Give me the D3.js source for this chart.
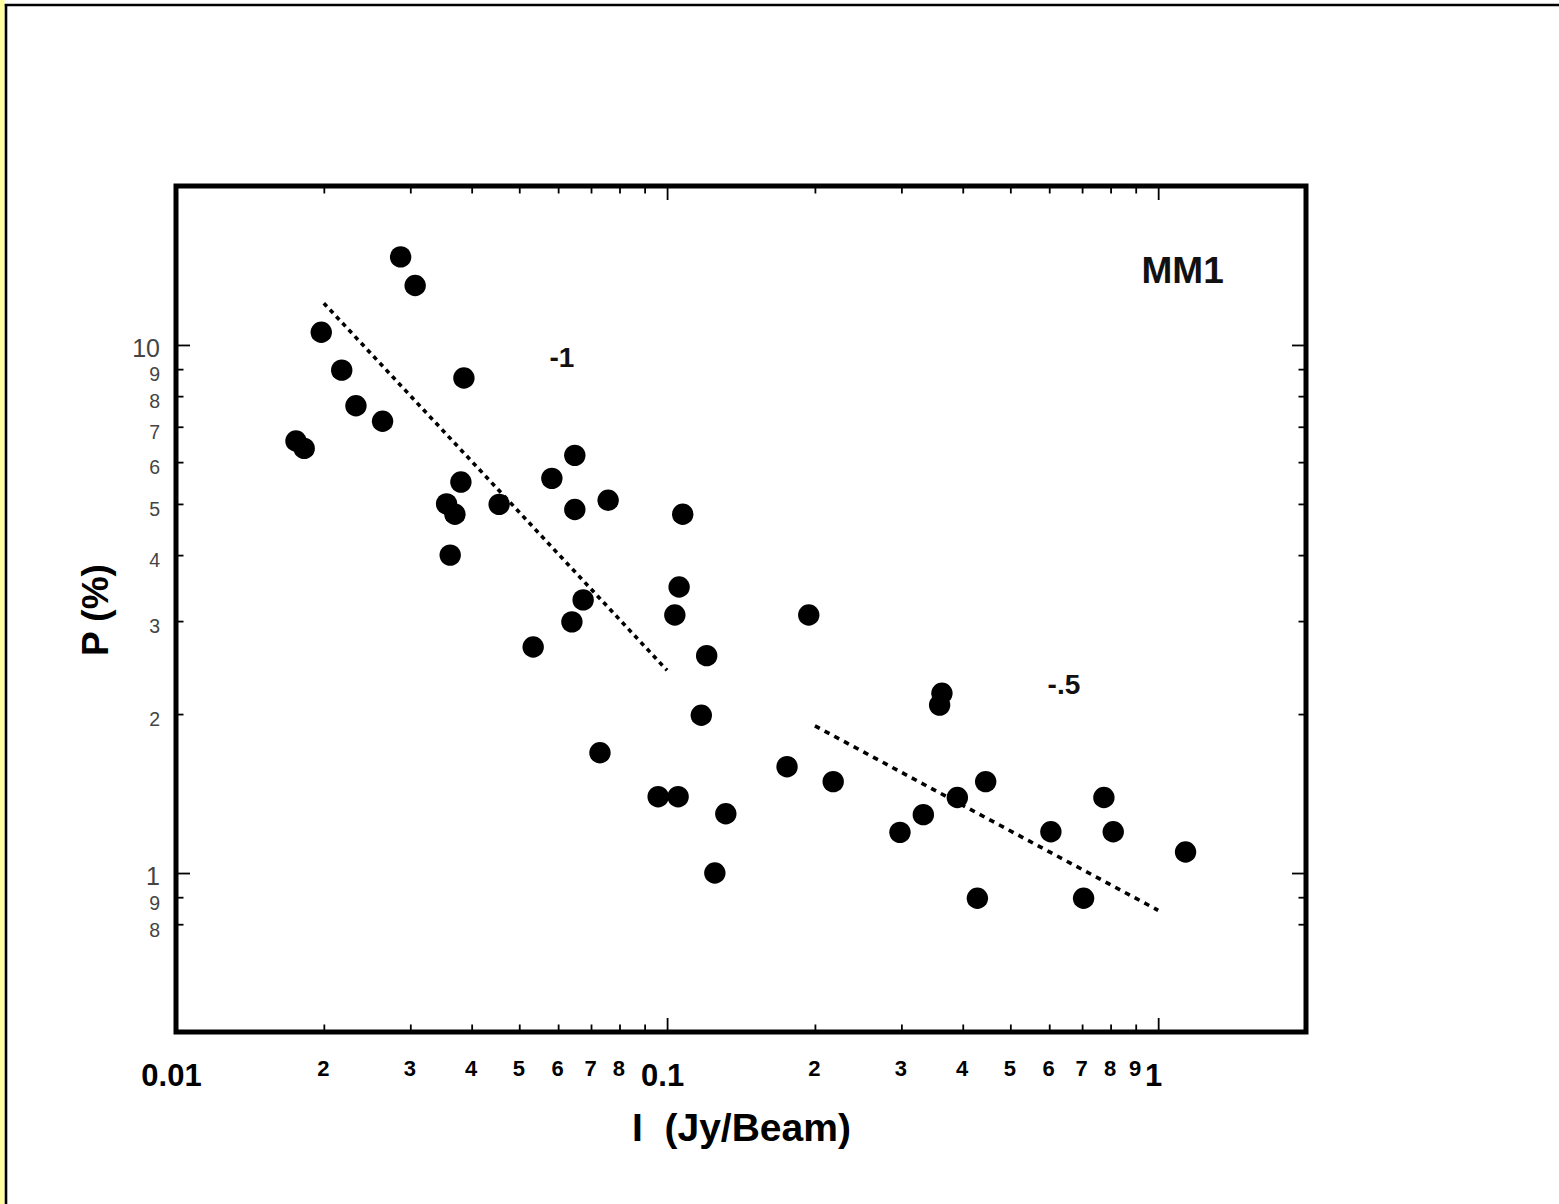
<!DOCTYPE html>
<html>
<head>
<meta charset="utf-8">
<script src="https://cdn.jsdelivr.net/npm/d3@7/dist/d3.min.js"></script>
<style>
  html, body { margin: 0; padding: 0; background: #fff; }
  svg { display: block; }
  text { font-family: "Liberation Sans", Arial, Helvetica, sans-serif; }
</style>
</head>
<body>
<svg id="chart" width="1559" height="1204"></svg>
<script>
// Intensity I (Jy/Beam) and polarization fraction P (%) for MM1
const intensity = [
  0.01755, 0.01824, 0.01976, 0.02175, 0.02325, 0.02634, 0.02867, 0.03069,
  0.03556, 0.03698, 0.03617, 0.03803, 0.03857, 0.0455, 0.05337, 0.05826,
  0.06488, 0.06488, 0.0640, 0.06746, 0.0730, 0.07585, 0.0959, 0.1053,
  0.1037, 0.1058, 0.1076, 0.1174, 0.1204, 0.1251, 0.1317, 0.1755,
  0.1943, 0.2179, 0.298, 0.3325, 0.3589, 0.3628, 0.390, 0.4284,
  0.4454, 0.6047, 0.7049, 0.7753, 0.810, 1.137
];
const polarization = [
  6.58, 6.37, 10.57, 8.96, 7.67, 7.17, 14.68, 12.96,
  5.0, 4.78, 4.0, 5.50, 8.66, 4.99, 2.68, 5.59,
  6.18, 4.88, 2.99, 3.29, 1.69, 5.08, 1.395, 1.395,
  3.08, 3.48, 4.78, 1.99, 2.58, 1.0, 1.295, 1.59,
  3.08, 1.49, 1.194, 1.29, 2.08, 2.19, 1.39, 0.896,
  1.49, 1.197, 0.896, 1.39, 1.197, 1.096
];

// Power-law guide lines (slopes -1 and -0.5)
const fitSteepI = [0.02, 0.1];
const fitSteepP = [12.0, 2.42];
const fitShallowI = [0.2, 1.0];
const fitShallowP = [1.9, 0.85];

// Tick values and labels
const xMajorTicks = [0.01, 0.1, 1];
const xMajorLabels = ["0.01", "0.1", "1"];
const xMinorTicks = [0.02, 0.03, 0.04, 0.05, 0.06, 0.07, 0.08, 0.09,
                     0.2, 0.3, 0.4, 0.5, 0.6, 0.7, 0.8, 0.9];
const xMinorLabels = ["2", "3", "4", "5", "6", "7", "8", "",
                      "2", "3", "4", "5", "6", "7", "8", "9"];
const yMajorTicks = [1, 10];
const yMajorLabels = ["1", "10"];
const yMinorTicks = [0.8, 0.9, 2, 3, 4, 5, 6, 7, 8, 9];
const yMinorLabels = ["8", "9", "2", "3", "4", "5", "6", "7", "8", "9"];

// Annotations
const notes = [
  { text: "-1", I: 0.0611, P: 9.1, anchor: "middle", size: 28 },
  { text: "-.5", I: 0.5955, P: 2.18, anchor: "start", size: 28 },
  { text: "MM1", I: 0.925, P: 13.09, anchor: "start", size: 37 }
];

const svg = d3.select("#chart");

// Page border
svg.append("rect").attr("x", 0).attr("y", 0).attr("width", 4.5).attr("height", 1204)
  .attr("fill", "#ffff9e");
svg.append("line").attr("x1", 4.8).attr("y1", 5).attr("x2", 1559).attr("y2", 5)
  .attr("stroke", "#000").attr("stroke-width", 2.6);
svg.append("line").attr("x1", 6).attr("y1", 4).attr("x2", 6).attr("y2", 1204)
  .attr("stroke", "#000").attr("stroke-width", 2.6);

const plotL = 176, plotR = 1306, plotT = 186, plotB = 1032;

const x = d3.scaleLog().domain([0.01, 2]).range([plotL, plotR]);
const y = d3.scaleLog().domain([0.5, 20]).range([plotB, plotT]);

const xTicks = xMajorTicks.concat(xMinorTicks);
const xLabelMap = new Map();
xMajorTicks.forEach((v, i) => xLabelMap.set(v, xMajorLabels[i]));
xMinorTicks.forEach((v, i) => xLabelMap.set(v, xMinorLabels[i]));
const isXMajor = v => xMajorTicks.includes(v);

const yTicks = yMajorTicks.concat(yMinorTicks);
const yLabelMap = new Map();
yMajorTicks.forEach((v, i) => yLabelMap.set(v, yMajorLabels[i]));
yMinorTicks.forEach((v, i) => yLabelMap.set(v, yMinorLabels[i]));
const isYMajor = v => yMajorTicks.includes(v);

// Bottom axis: inward ticks with labels
const gBottom = svg.append("g").attr("transform", `translate(0,${plotB})`)
  .call(d3.axisBottom(x).tickValues(xTicks).tickSize(-12).tickFormat(d => xLabelMap.get(d)));
gBottom.select(".domain").remove();
gBottom.selectAll(".tick line")
  .attr("y2", d => isXMajor(d) ? -14 : -7.5)
  .attr("stroke", "#000").attr("stroke-width", 1.8);
gBottom.selectAll(".tick text")
  .attr("fill", "#000")
  .attr("font-weight", "bold")
  .attr("font-size", d => isXMajor(d) ? 31 : 22)
  .attr("dy", 0)
  .attr("dx", d => isXMajor(d) ? -5 : -1)
  .attr("y", d => isXMajor(d) ? 54 : 44);

// Top axis: inward ticks only
const gTop = svg.append("g").attr("transform", `translate(0,${plotT})`)
  .call(d3.axisTop(x).tickValues(xTicks).tickSize(-12).tickFormat(""));
gTop.select(".domain").remove();
gTop.selectAll(".tick line")
  .attr("y2", d => isXMajor(d) ? 14 : 7.5)
  .attr("stroke", "#000").attr("stroke-width", 1.8);

// Left axis: inward ticks with labels
const gLeft = svg.append("g").attr("transform", `translate(${plotL},0)`)
  .call(d3.axisLeft(y).tickValues(yTicks).tickSize(-12).tickFormat(d => yLabelMap.get(d)));
gLeft.select(".domain").remove();
gLeft.selectAll(".tick line")
  .attr("x2", d => isYMajor(d) ? 14 : 7.5)
  .attr("stroke", "#000").attr("stroke-width", 1.8);
gLeft.selectAll(".tick text")
  .attr("fill", "#444")
  .attr("font-weight", "normal")
  .attr("font-size", d => isYMajor(d) ? 25 : 19.5)
  .attr("x", -16)
  .attr("y", d => isYMajor(d) ? 3 : 5)
  .attr("dy", "0.35em");

// Right axis: inward ticks only
const gRight = svg.append("g").attr("transform", `translate(${plotR},0)`)
  .call(d3.axisRight(y).tickValues(yTicks).tickSize(-12).tickFormat(""));
gRight.select(".domain").remove();
gRight.selectAll(".tick line")
  .attr("x2", d => isYMajor(d) ? -14 : -7.5)
  .attr("stroke", "#000").attr("stroke-width", 1.8);

// Plot frame
svg.append("rect")
  .attr("x", plotL).attr("y", plotT)
  .attr("width", plotR - plotL).attr("height", plotB - plotT)
  .attr("fill", "none").attr("stroke", "#000").attr("stroke-width", 5);

// Guide lines
const line = d3.line().x(d => x(d[0])).y(d => y(d[1]));
svg.append("path")
  .datum(fitSteepI.map((v, i) => [v, fitSteepP[i]]))
  .attr("d", line)
  .attr("fill", "none").attr("stroke", "#000")
  .attr("stroke-width", 3.6).attr("stroke-dasharray", "4.5,4.6");
svg.append("path")
  .datum(fitShallowI.map((v, i) => [v, fitShallowP[i]]))
  .attr("d", line)
  .attr("fill", "none").attr("stroke", "#000")
  .attr("stroke-width", 3.6).attr("stroke-dasharray", "5.5,5.5");

// Data points
svg.append("g").selectAll("circle")
  .data(intensity.map((v, i) => [v, polarization[i]]))
  .join("circle")
  .attr("cx", d => x(d[0]))
  .attr("cy", d => y(d[1]))
  .attr("r", 10.7)
  .attr("fill", "#000");

// Annotations
svg.append("g").selectAll("text")
  .data(notes)
  .join("text")
  .attr("x", d => x(d.I))
  .attr("y", d => y(d.P))
  .attr("text-anchor", d => d.anchor)
  .attr("font-size", d => d.size)
  .attr("font-weight", "bold")
  .attr("fill", "#111")
  .text(d => d.text);

// Axis titles
svg.append("text")
  .attr("x", 632).attr("y", 1141)
  .attr("font-size", 39).attr("font-weight", "bold").attr("fill", "#000")
  .style("white-space", "pre")
  .text("I  (Jy/Beam)");
svg.append("text")
  .attr("transform", "translate(108,610) rotate(-90)")
  .attr("text-anchor", "middle")
  .attr("font-size", 37).attr("font-weight", "bold").attr("fill", "#000")
  .text("P (%)");
</script>
</body>
</html>
